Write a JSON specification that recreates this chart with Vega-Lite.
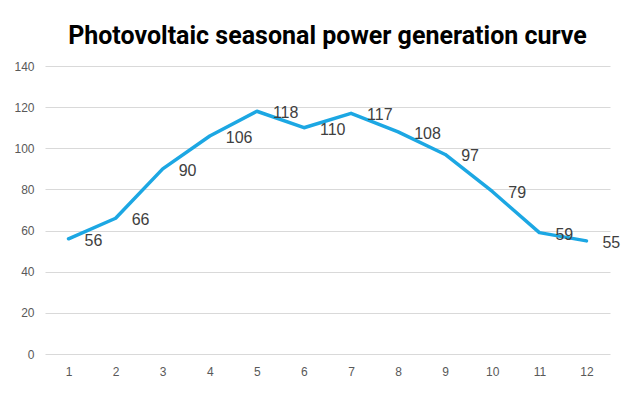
{
  "$schema": "https://vega.github.io/schema/vega-lite/v6.json",
  "autosize": {"type": "none"},
  "padding": {"left": 45, "top": 66, "right": 21, "bottom": 42},
  "width": 565,
  "height": 288,
  "background": "white",
  "title": {
    "text": "Photovoltaic seasonal power generation curve",
    "font": "Roboto",
    "fontSize": 25,
    "fontWeight": "bold",
    "color": "#000000",
    "anchor": "middle",
    "baseline": "alphabetic",
    "offset": 21,
    "dy": 30
  },
  "config": {
    "view": {"stroke": null},
    "axis": {
      "labelFont": "Liberation Sans",
      "labelFontSize": 12,
      "labelColor": "#595959",
      "domain": false,
      "ticks": false,
      "title": null
    }
  },
  "data": {
    "values": [
      {"month": "1", "value": 56},
      {"month": "2", "value": 66},
      {"month": "3", "value": 90},
      {"month": "4", "value": 106},
      {"month": "5", "value": 118},
      {"month": "6", "value": 110},
      {"month": "7", "value": 117},
      {"month": "8", "value": 108},
      {"month": "9", "value": 97},
      {"month": "10", "value": 79},
      {"month": "11", "value": 59},
      {"month": "12", "value": 55}
    ]
  },
  "encoding": {
    "x": {
      "field": "month",
      "type": "ordinal",
      "sort": null,
      "scale": {"type": "point", "padding": 0.5},
      "axis": {"labelAngle": 0, "grid": false, "labelPadding": 12}
    },
    "y": {
      "field": "value",
      "type": "quantitative",
      "scale": {"domain": [0, 140], "nice": false},
      "axis": {"values": [0, 20, 40, 60, 80, 100, 120, 140], "gridColor": "#D9D9D9", "gridWidth": 1, "labelPadding": 11}
    }
  },
  "layer": [
    {
      "mark": {"type": "line", "color": "#1CA7E3", "strokeWidth": 3.5, "strokeJoin": "round", "strokeCap": "round"}
    },
    {
      "mark": {"type": "text", "align": "left", "baseline": "middle", "dx": 16, "dy": 2, "font": "Liberation Sans", "fontSize": 16, "color": "#404040"},
      "encoding": {"text": {"field": "value", "type": "quantitative"}}
    }
  ]
}
